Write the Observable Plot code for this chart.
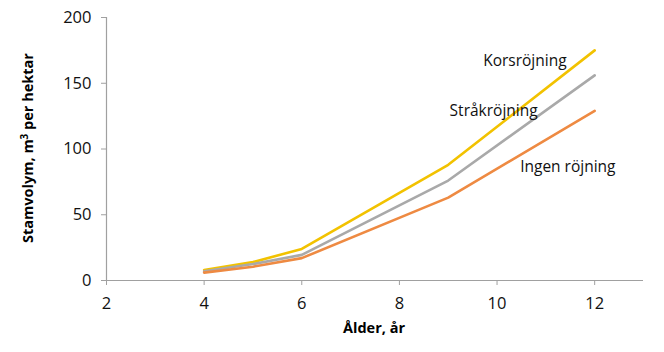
<!DOCTYPE html>
<html><head><meta charset="utf-8">
<script src="https://cdn.jsdelivr.net/npm/d3@7"></script>
<script src="https://cdn.jsdelivr.net/npm/@observablehq/plot@0.6"></script>
<style>body{margin:0;background:#fff;} #chart{width:664px;height:352px;}</style>
</head><body><div id="chart"></div>
<script>
const ages = [4, 5, 6, 9, 12];
const korsrojning = [8, 14, 24, 88, 175];
const strakrojning = [7, 12.5, 19.5, 76, 156];
const ingenRojning = [6, 10.5, 17, 63, 129];
const seriesNames = ["Korsröjning", "Stråkröjning", "Ingen röjning"];
const seriesColors = ["#f2c200", "#a9a9a9", "#ee8a42"];
const labelX = [10.57, 9.93, 11.45];
const labelY = [167, 129, 86];
const xTicks = [2, 4, 6, 8, 10, 12];
const yTicks = [0, 50, 100, 150, 200];

const allValues = [korsrojning, strakrojning, ingenRojning];
const rows = [];
allValues.forEach((vals, s) => vals.forEach((v, i) => rows.push({series: seriesNames[s], age: ages[i], value: v})));
const labels = seriesNames.map((n, i) => ({series: n, x: labelX[i], y: labelY[i]}));

const font = "'Open Sans', sans-serif";
const chart = Plot.plot({
  width: 664, height: 352,
  marginLeft: 106, marginRight: 21, marginTop: 17, marginBottom: 72,
  style: {fontFamily: font, fontSize: "16px", color: "#000", background: "#fff"},
  x: {domain: [2, 13], ticks: xTicks},
  y: {domain: [0, 200], ticks: yTicks},
  color: {domain: seriesNames, range: seriesColors},
  marks: [
    Plot.ruleY([0], {stroke: "#a0a0a0", strokeWidth: 1.2}),
    Plot.ruleX([2], {stroke: "#a0a0a0", strokeWidth: 1.2}),
    Plot.axisY({ticks: yTicks, tickSize: 5, tickPadding: 10, stroke: "#a0a0a0", label: null, fontSize: 16.5, fill: "#111"}),
    Plot.axisX({ticks: xTicks, tickSize: 5, tickPadding: 12, stroke: "#a0a0a0", label: null, fontSize: 16.5, fill: "#111"}),
    Plot.line(rows, {x: "age", y: "value", z: "series", stroke: "series", strokeWidth: 2.6}),
    Plot.text(labels, {x: "x", y: "y", text: "series", fontSize: 15.5, fill: "#111"})
  ]
});
const svg = d3.select(chart);
svg.append("text").attr("x", 374).attr("y", 333).attr("text-anchor", "middle")
  .attr("font-family", font).attr("font-weight", "bold").attr("font-size", 14.5).text("Ålder, år");
const yt = svg.append("text").attr("transform", "translate(33,148) rotate(-90)").attr("text-anchor", "middle")
  .attr("font-family", font).attr("font-weight", "bold").attr("font-size", 14.5);
yt.append("tspan").text("Stamvolym, m");
yt.append("tspan").attr("dy", -5).attr("font-size", 10).text("3");
yt.append("tspan").attr("dy", 5).text(" per hektar");
document.getElementById("chart").appendChild(chart);
</script></body></html>
